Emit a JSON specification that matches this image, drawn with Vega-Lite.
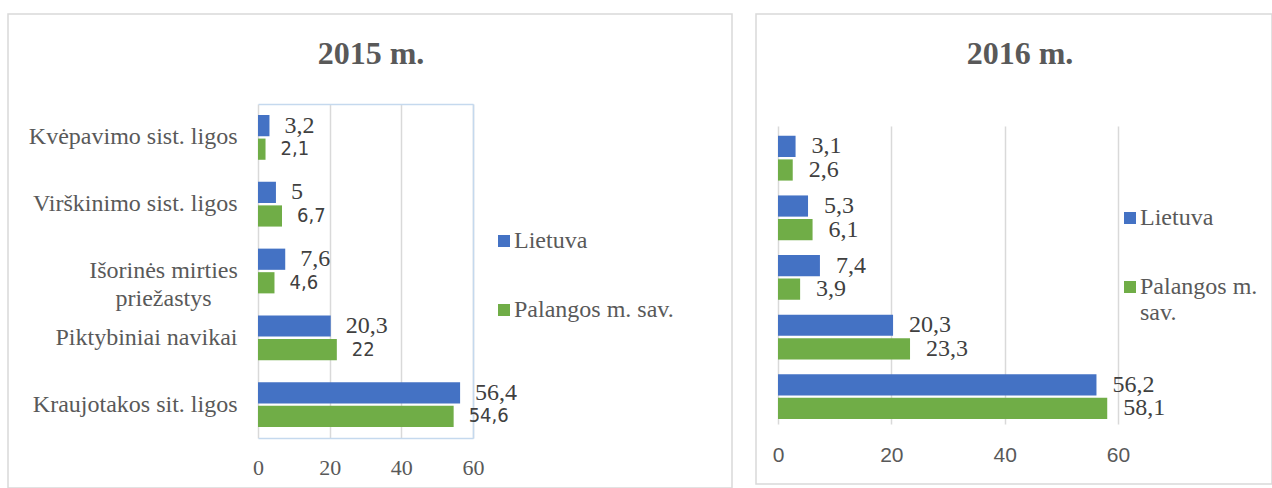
{
  "$schema": "https://vega.github.io/schema/vega-lite/v6.json",
  "padding": {"left": 7, "top": 13, "right": 0, "bottom": 0},
  "autosize": {"type": "pad"},
  "spacing": 24,
  "bounds": "flush",
  "config": {
    "view": {"stroke": "#d9d9d9", "strokeWidth": 1.5},
    "locale": {"number": {"decimal": ",", "thousands": " ", "grouping": [3], "currency": ["", " €"]}},
    "axis": {"gridColor": "#d9d9d9", "gridWidth": 1.5, "ticks": false, "title": null, "labelColor": "#595959", "labelFlush": false},
    "title": {"font": "Liberation Serif", "fontSize": 32, "fontWeight": "bold", "color": "#595959", "anchor": "middle", "frame": "group"}
  },
  "datasets": {
    "d2015": [
      {"cat": "Kvėpavimo sist. ligos", "s": "Lietuva", "v": 3.2},
      {"cat": "Kvėpavimo sist. ligos", "s": "Palangos m. sav.", "v": 2.1},
      {"cat": "Virškinimo sist. ligos", "s": "Lietuva", "v": 5},
      {"cat": "Virškinimo sist. ligos", "s": "Palangos m. sav.", "v": 6.7},
      {"cat": "Išorinės mirties priežastys", "s": "Lietuva", "v": 7.6},
      {"cat": "Išorinės mirties priežastys", "s": "Palangos m. sav.", "v": 4.6},
      {"cat": "Piktybiniai navikai", "s": "Lietuva", "v": 20.3},
      {"cat": "Piktybiniai navikai", "s": "Palangos m. sav.", "v": 22},
      {"cat": "Kraujotakos sit. ligos", "s": "Lietuva", "v": 56.4},
      {"cat": "Kraujotakos sit. ligos", "s": "Palangos m. sav.", "v": 54.6}
    ],
    "d2016": [
      {"cat": "Kvėpavimo sist. ligos", "s": "Lietuva", "v": 3.1},
      {"cat": "Kvėpavimo sist. ligos", "s": "Palangos m. sav.", "v": 2.6},
      {"cat": "Virškinimo sist. ligos", "s": "Lietuva", "v": 5.3},
      {"cat": "Virškinimo sist. ligos", "s": "Palangos m. sav.", "v": 6.1},
      {"cat": "Išorinės mirties priežastys", "s": "Lietuva", "v": 7.4},
      {"cat": "Išorinės mirties priežastys", "s": "Palangos m. sav.", "v": 3.9},
      {"cat": "Piktybiniai navikai", "s": "Lietuva", "v": 20.3},
      {"cat": "Piktybiniai navikai", "s": "Palangos m. sav.", "v": 23.3},
      {"cat": "Kraujotakos sit. ligos", "s": "Lietuva", "v": 56.2},
      {"cat": "Kraujotakos sit. ligos", "s": "Palangos m. sav.", "v": 58.1}
    ]
  },
  "resolve": {"scale": {"color": "independent"}, "legend": {"color": "independent"}},
  "hconcat": [
    {
      "width": 724,
      "height": 474,
      "title": {"text": "2015 m.", "offset": -82, "baseline": "alphabetic", "dx": 1},
      "data": {"name": "d2015"},
      "resolve": {"axis": {"x": "independent", "y": "independent"}},
      "layer": [
        {
          "mark": {"type": "bar", "opacity": 0},
          "encoding": {
            "x": {"field": "v", "type": "quantitative",
                  "scale": {"domain": [0, 60], "range": [250, 465], "nice": false},
                  "axis": {"orient": "top", "offset": -90, "values": [0, 20, 40, 60], "labels": false, "grid": true,
                           "domainColor": "#c5d9ee", "domainWidth": 1.5}},
            "y": {"field": "cat", "type": "nominal", "sort": null,
                  "scale": {"range": [90, 424], "paddingInner": 0.33, "paddingOuter": 0.165},
                  "axis": {"orient": "right", "offset": -259, "labels": false, "grid": false,
                           "domainColor": "#c5d9ee", "domainWidth": 1.5}},
            "yOffset": {"field": "s", "type": "nominal", "sort": null,
                        "scale": {"domain": ["Lietuva", "Palangos m. sav."], "paddingInner": 0.1, "paddingOuter": 0}}
          }
        },
        {
          "mark": {"type": "bar", "opacity": 0},
          "encoding": {
            "x": {"field": "v", "type": "quantitative", "axis": null},
            "y": {"field": "cat", "type": "nominal", "sort": null,
                  "axis": {"orient": "left", "offset": -250, "domain": false, "grid": false,
                           "labelAlign": "center", "labelPadding": 95,
                           "labelFont": "Liberation Serif", "labelFontSize": 24, "labelColor": "#595959",
                           "labelLimit": 400, "labelLineHeight": 28,
                           "labelExpr": "datum.value == 'Išorinės mirties priežastys' ? ['Išorinės mirties', 'priežastys'] : ''"}},
            "yOffset": {"field": "s", "type": "nominal", "sort": null}
          }
        },
        {
          "mark": {"type": "bar"},
          "encoding": {
            "y": {"field": "cat", "type": "nominal", "sort": null,
                  "axis": {"orient": "left", "offset": -250, "domain": false, "grid": false, "labelPadding": 21,
                           "labelFont": "Liberation Serif", "labelFontSize": 24, "labelColor": "#595959",
                           "labelLimit": 400,
                           "labelExpr": "datum.value == 'Išorinės mirties priežastys' ? '' : datum.label"}},
            "x": {"field": "v", "type": "quantitative",
                  "axis": {"orient": "bottom", "offset": -50, "values": [0, 20, 40, 60], "grid": false,
                           "domain": true, "domainColor": "#c5d9ee", "domainWidth": 1.5,
                           "labelFont": "Liberation Serif", "labelFontSize": 22, "labelPadding": 19, "labelColor": "#595959"}},
            "yOffset": {"field": "s", "type": "nominal", "sort": null},
            "color": {"field": "s", "type": "nominal", "sort": null,
                      "scale": {"domain": ["Lietuva", "Palangos m. sav."], "range": ["#4472c4", "#70ad47"]},
                      "legend": {"orient": "none", "legendX": 484, "legendY": 215, "title": null,
                                 "labelFont": "Liberation Serif", "labelFontSize": 24, "labelColor": "#595959",
                                 "symbolType": "square", "symbolSize": 144, "symbolStrokeWidth": 0,
                                 "rowPadding": 45, "labelOffset": -2, "padding": 0, "labelLimit": 400}}
          }
        },
        {
          "transform": [{"filter": "datum.s == 'Lietuva'"}],
          "mark": {"type": "text", "align": "left", "baseline": "middle", "dx": 15,
                   "font": "Liberation Serif", "fontSize": 24, "color": "#404040"},
          "encoding": {
            "x": {"field": "v", "type": "quantitative", "axis": null},
            "y": {"field": "cat", "type": "nominal", "sort": null, "axis": null},
            "yOffset": {"field": "s", "type": "nominal", "sort": null},
            "text": {"field": "v", "type": "quantitative", "format": ".3~g"}
          }
        },
        {
          "transform": [{"filter": "datum.s != 'Lietuva'"}],
          "mark": {"type": "text", "align": "left", "baseline": "middle", "dx": 15,
                   "font": "DejaVu Sans Condensed, sans-serif", "fontSize": 20, "color": "#404040"},
          "encoding": {
            "x": {"field": "v", "type": "quantitative", "axis": null},
            "y": {"field": "cat", "type": "nominal", "sort": null, "axis": null},
            "yOffset": {"field": "s", "type": "nominal", "sort": null},
            "text": {"field": "v", "type": "quantitative", "format": ".3~g"}
          }
        }
      ]
    },
    {
      "width": 516,
      "height": 470,
      "title": {"text": "2016 m.", "offset": -82, "baseline": "alphabetic", "dx": 6},
      "data": {"name": "d2016"},
      "resolve": {"axis": {"x": "independent", "y": "independent"}},
      "layer": [
        {
          "mark": {"type": "bar", "opacity": 0},
          "encoding": {
            "x": {"field": "v", "type": "quantitative",
                  "scale": {"domain": [0, 60], "range": [22, 362], "nice": false},
                  "axis": {"orient": "top", "offset": -112, "values": [0, 20, 40, 60], "labels": false,
                           "grid": true, "domain": false}},
            "y": {"field": "cat", "type": "nominal", "sort": null,
                  "scale": {"range": [112, 410], "paddingInner": 0.33, "paddingOuter": 0.165},
                  "axis": null},
            "yOffset": {"field": "s", "type": "nominal", "sort": null,
                        "scale": {"domain": ["Lietuva", "Palangos m. sav."], "paddingInner": 0.1, "paddingOuter": 0}}
          }
        },
        {
          "mark": {"type": "bar"},
          "encoding": {
            "y": {"field": "cat", "type": "nominal", "sort": null, "axis": null},
            "x": {"field": "v", "type": "quantitative",
                  "axis": {"orient": "bottom", "offset": -60, "values": [0, 20, 40, 60], "grid": false,
                           "domain": false,
                           "labelFont": "Liberation Sans", "labelFontSize": 21, "labelPadding": 20, "labelColor": "#595959"}},
            "yOffset": {"field": "s", "type": "nominal", "sort": null},
            "color": {"field": "s", "type": "nominal", "sort": null,
                      "scale": {"domain": ["Lietuva", "Palangos m. sav."], "range": ["#4472c4", "#70ad47"]},
                      "legend": {"orient": "none", "legendX": 362, "legendY": 192, "title": null,
                                 "labelFont": "Liberation Serif", "labelFontSize": 24, "labelColor": "#595959",
                                 "symbolType": "square", "symbolSize": 144, "symbolStrokeWidth": 0,
                                 "rowPadding": 45, "labelOffset": -2, "padding": 0, "labelLimit": 400,
                                 "labelLineHeight": 27,
                                 "labelExpr": "datum.label == 'Palangos m. sav.' ? ['Palangos m.', 'sav.'] : datum.label"}}
          }
        },
        {
          "mark": {"type": "text", "align": "left", "baseline": "middle", "dx": 16,
                   "font": "Liberation Serif", "fontSize": 24, "color": "#404040"},
          "encoding": {
            "x": {"field": "v", "type": "quantitative", "axis": null},
            "y": {"field": "cat", "type": "nominal", "sort": null, "axis": null},
            "yOffset": {"field": "s", "type": "nominal", "sort": null},
            "text": {"field": "v", "type": "quantitative", "format": ".3~g"}
          }
        }
      ]
    }
  ]
}
